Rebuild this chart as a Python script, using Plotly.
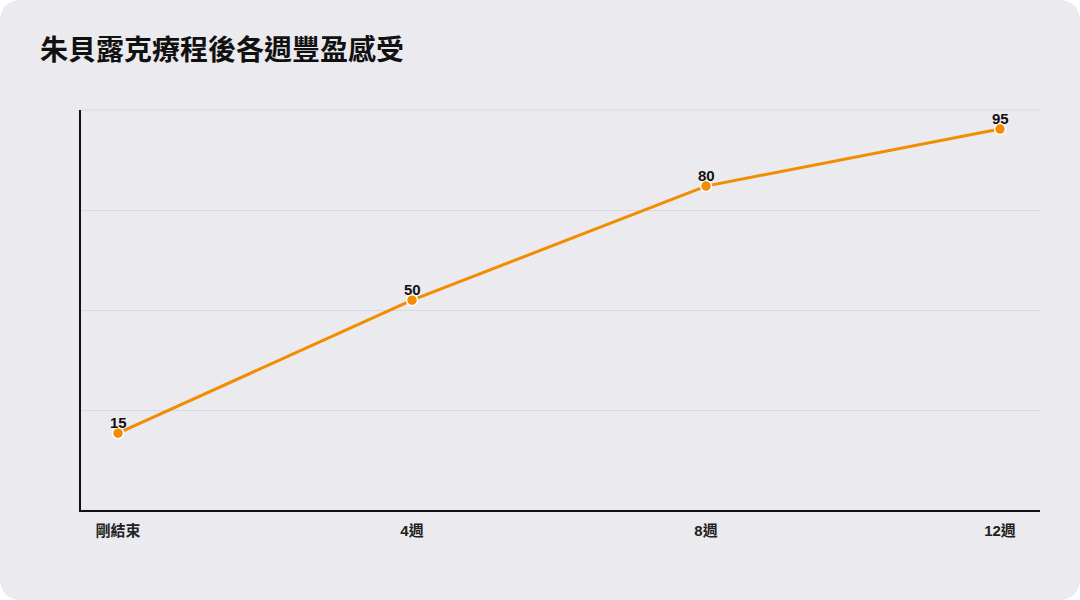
import plotly.graph_objects as go

# 豐盈感受 by week after treatment
weeks = ["剛結束", "4週", "8週", "12週"]
fullness = [15, 50, 80, 95]

title_text = "朱貝露克療程後各週豐盈感受"

W, H = 1080, 600
ML, MR, MT, MB = 81, 40, 110, 90
PW, PH = W - ML - MR, H - MT - MB
FONT = "Liberation Sans, Noto Sans CJK TC, sans-serif"
TITLE_FONT = "Noto Sans CJK TC, sans-serif"
BG = "#ebeaef"
GRID = "#d9d8de"


def px_x(x):
    return (x - ML) / PW


def px_y(y):
    return (H - MB - y) / PH


# rounded card behind everything
r = 22
x0, x1 = px_x(0), px_x(W)
y0, y1 = px_y(H), px_y(0)
rx, ry = r / PW, r / PH
card = (
    f"M {x0 + rx},{y1} L {x1 - rx},{y1} Q {x1},{y1} {x1},{y1 - ry} "
    f"L {x1},{y0 + ry} Q {x1},{y0} {x1 - rx},{y0} "
    f"L {x0 + rx},{y0} Q {x0},{y0} {x0},{y0 + ry} "
    f"L {x0},{y1 - ry} Q {x0},{y1} {x0 + rx},{y1} Z"
)

fig = go.Figure()
fig.add_trace(
    go.Scatter(
        x=weeks,
        y=fullness,
        mode="lines+markers",
        line=dict(color="#f28c00", width=3),
        marker=dict(size=11, color="#f28c00", line=dict(color="white", width=1.5)),
        cliponaxis=False,
        hoverinfo="skip",
    )
)

# value labels just above each point
for wk, v in zip(weeks, fullness):
    fig.add_annotation(
        x=wk,
        y=v,
        text=str(v),
        showarrow=False,
        yanchor="middle",
        yshift=11,
        font=dict(family=FONT, size=15, color="#111111", weight="bold"),
    )

ymin, ymax = -5.2, 100
fig.update_layout(
    width=W,
    height=H,
    margin=dict(l=ML, r=MR, t=MT, b=MB),
    paper_bgcolor="white",
    plot_bgcolor="rgba(0,0,0,0)",
    showlegend=False,
    title=dict(
        text=title_text,
        x=40 / W,
        xanchor="left",
        y=1 - 50 / H,
        yanchor="middle",
        font=dict(family=TITLE_FONT, size=28, color="#111111", weight="bold"),
    ),
    shapes=[
        dict(
            type="path",
            path=card,
            xref="paper",
            yref="paper",
            fillcolor=BG,
            line=dict(width=0),
            layer="below",
        ),
        # top grid line (plotly drops the one on the plot edge)
        dict(
            type="line",
            xref="paper",
            yref="paper",
            x0=0,
            x1=1,
            y0=1,
            y1=1,
            line=dict(color=GRID, width=1),
            layer="below",
        ),
    ],
    xaxis=dict(
        type="category",
        range=[-0.126, 3.136],
        showgrid=False,
        zeroline=False,
        showline=True,
        linecolor="#111111",
        linewidth=2,
        ticks="",
        ticklabelstandoff=6,
        tickfont=dict(family=FONT, size=15, color="#222222", weight="bold"),
    ),
    yaxis=dict(
        range=[ymin, ymax + 0.01],
        tick0=ymin,
        dtick=(ymax - ymin) / 4,
        showticklabels=False,
        showgrid=True,
        gridcolor=GRID,
        gridwidth=1,
        zeroline=False,
        showline=True,
        linecolor="#111111",
        linewidth=2,
        ticks="",
    ),
)

fig.write_html(
    "out.html",
    config={"displayModeBar": False},
    post_script="document.body.style.margin='0';",
)
